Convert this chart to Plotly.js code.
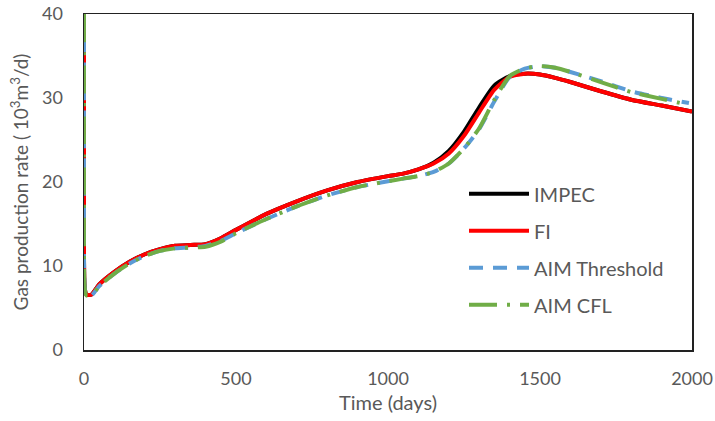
<!DOCTYPE html>
<html>
<head>
<meta charset="utf-8">
<script src="https://cdn.plot.ly/plotly-3.0.1.min.js"></script>
<style>
  html, body { margin: 0; padding: 0; background: #fff; }
  #chart { width: 715px; height: 421px; }
</style>
</head>
<body>
<div id="chart"></div>
<script>
// Gas production rate (10^3 m^3/d) over time (days) for four solution schemes
const timeImpec = [0, 0, 2, 8, 25, 50, 100, 150, 200, 250, 300, 350, 400, 450, 500, 600, 700, 800, 900, 1000, 1050, 1100, 1150, 1200, 1250, 1300, 1350, 1400, 1450, 1500, 1550, 1600, 1700, 1800, 1900, 2000];
const rateImpec = [40, 20, 7.5, 6.6, 6.6, 7.8, 9.3, 10.5, 11.4, 12.0, 12.4, 12.5, 12.6, 13.3, 14.3, 16.2, 17.7, 19.0, 20.0, 20.7, 21.0, 21.5, 22.3, 23.7, 26.0, 28.9, 31.5, 32.6, 32.9, 32.8, 32.4, 31.9, 30.8, 29.8, 29.1, 28.4];

const timeFi = [0, 0, 2, 8, 25, 50, 100, 150, 200, 250, 300, 350, 400, 450, 500, 600, 700, 800, 900, 1000, 1050, 1100, 1150, 1200, 1250, 1300, 1350, 1400, 1450, 1500, 1550, 1600, 1700, 1800, 1900, 2000];
const rateFi = [40, 20, 7.5, 6.6, 6.6, 7.8, 9.3, 10.5, 11.4, 12.0, 12.4, 12.5, 12.6, 13.3, 14.3, 16.2, 17.7, 19.0, 20.0, 20.7, 21.0, 21.5, 22.2, 23.4, 25.5, 28.3, 31.0, 32.5, 32.9, 32.8, 32.4, 31.9, 30.8, 29.8, 29.1, 28.4];

const timeThreshold = [0, 0, 2, 8, 25, 50, 100, 150, 200, 250, 300, 350, 400, 450, 500, 600, 700, 800, 900, 1000, 1050, 1100, 1150, 1200, 1250, 1300, 1350, 1400, 1450, 1500, 1550, 1600, 1700, 1800, 1900, 1990];
const rateThreshold = [40, 20, 7.5, 6.5, 6.5, 7.6, 9.1, 10.3, 11.2, 11.8, 12.1, 12.2, 12.4, 13.0, 13.9, 15.6, 17.1, 18.4, 19.4, 20.1, 20.4, 20.7, 21.2, 22.2, 24.0, 26.3, 29.6, 32.5, 33.5, 33.8, 33.6, 33.1, 32.0, 30.8, 30.0, 29.4];

const timeCfl = [0, 0, 2, 8, 25, 50, 100, 150, 200, 250, 300, 350, 400, 450, 500, 600, 700, 800, 900, 1000, 1050, 1100, 1150, 1200, 1250, 1300, 1350, 1400, 1450, 1500, 1550, 1600, 1700, 1800, 1900, 1975];
const rateCfl = [40, 20, 7.5, 6.5, 6.5, 7.6, 9.1, 10.3, 11.2, 11.8, 12.1, 12.2, 12.3, 12.9, 13.9, 15.6, 17.1, 18.4, 19.4, 20.1, 20.4, 20.7, 21.2, 22.2, 24.0, 26.4, 29.8, 32.6, 33.5, 33.8, 33.6, 33.1, 31.9, 30.7, 29.9, 29.3];

const seriesNames = ['IMPEC', 'FI', 'AIM Threshold', 'AIM CFL'];

const textColor = '#595959';
const fontFamily = 'Lato, "Liberation Sans", sans-serif';

const traces = [
  { x: timeImpec, y: rateImpec, name: seriesNames[0], legendgroup: 'a',
    line: { color: '#000000', width: 4 } },
  { x: timeFi, y: rateFi, name: seriesNames[1], legendgroup: 'b',
    line: { color: '#ff0000', width: 4 } },
  { x: timeThreshold, y: rateThreshold, name: seriesNames[2], legendgroup: 'c',
    line: { color: '#5b9bd5', width: 4, dash: '14px,10px' } },
  { x: timeCfl, y: rateCfl, name: seriesNames[3], legendgroup: 'd',
    line: { color: '#70ad47', width: 4, dash: '28px,10px,3px,10px' } }
].map(t => {
  t.line.shape = 'spline';
  t.line.smoothing = 0.6;
  return Object.assign({ type: 'scatter', mode: 'lines' }, t);
});

const layout = {
  width: 715,
  height: 421,
  margin: { l: 84, r: 23, t: 14, b: 71 },
  paper_bgcolor: '#ffffff',
  plot_bgcolor: '#ffffff',
  font: { family: fontFamily, size: 18, color: textColor },
  showlegend: true,
  legend: {
    x: 0.625, y: 0.523, xanchor: 'left', yanchor: 'top',
    bgcolor: 'rgba(0,0,0,0)',
    tracegroupgap: 8,
    itemwidth: 60,
    font: { family: fontFamily, size: 20, color: textColor }
  },
  xaxis: {
    range: [0, 2000],
    tickvals: [0, 500, 1000, 1500, 2000],
    showgrid: false, zeroline: false,
    showline: true, mirror: true, linecolor: '#222222', linewidth: 1.5,
    ticks: '', ticklen: 0, ticklabelstandoff: 12,
    tickfont: { size: 18, color: textColor },
    title: { text: 'Time (days)', font: { size: 20, color: textColor }, standoff: 8 }
  },
  yaxis: {
    range: [0, 40],
    tickvals: [0, 10, 20, 30, 40],
    showgrid: false, zeroline: false,
    showline: true, mirror: true, linecolor: '#222222', linewidth: 1.5,
    ticks: '', ticklen: 0, ticklabelstandoff: 16,
    tickfont: { size: 18, color: textColor },
    title: { text: 'Gas production rate ( 10<sup>3</sup>m<sup>3</sup>/d)', font: { size: 19, color: textColor }, standoff: 8 }
  }
};

Plotly.newPlot('chart', traces, layout, { staticPlot: true, displayModeBar: false });
</script>
</body>
</html>
